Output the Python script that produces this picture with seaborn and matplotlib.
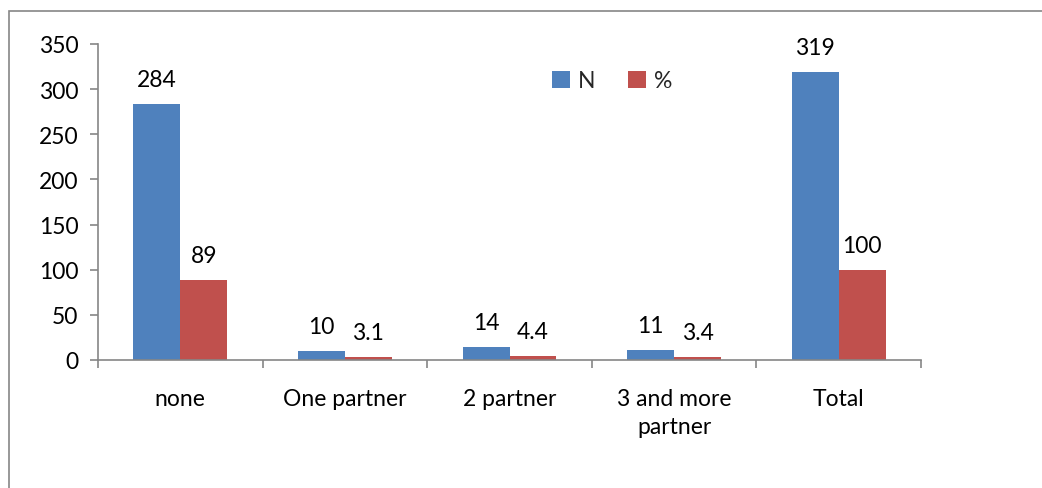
import matplotlib
matplotlib.use("Agg")
import matplotlib.pyplot as plt
from matplotlib.patches import Rectangle, Patch
import seaborn as sns
import pandas as pd

categories = ["none", "One partner", "2 partner", "3 and more\npartner", "Total"]
n_values = [284, 10, 14, 11, 319]
pct_values = [89, 3.1, 4.4, 3.4, 100]
series = ["N", "%"]
colors = ["#4F81BD", "#C0504D"]

df = pd.DataFrame({
    "category": categories * 2,
    "series": [series[0]] * len(categories) + [series[1]] * len(categories),
    "value": n_values + pct_values,
})

sns.set_theme(style="white")
plt.rcParams["font.family"] = ["Lato", "DejaVu Sans"]

FS = 16.5
W, H = 1042, 489
fig = plt.figure(figsize=(W / 100, H / 100), dpi=100)
ax = fig.add_axes([98 / W, (H - 361) / H, (921 - 98) / W, 316 / H])

sns.barplot(data=df, x="category", y="value", hue="series", order=categories,
            hue_order=series, palette=colors, width=0.571, dodge=True,
            saturation=1, edgecolor="none", linewidth=0, ax=ax, legend=False)

for cont in ax.containers:
    ax.bar_label(cont, fmt="{:g}", padding=10, fontsize=FS, color="black")

ax.set_ylim(0, 350)
ax.set_yticks(range(0, 351, 50))
ax.set_xlim(-0.5, len(categories) - 0.5)
ax.set_xlabel("")
ax.set_ylabel("")

spine_color = "#868686"
for s in ["top", "right"]:
    ax.spines[s].set_visible(False)
for s in ["left", "bottom"]:
    ax.spines[s].set_color(spine_color)
    ax.spines[s].set_linewidth(1.2)

ax.tick_params(axis="y", which="both", left=True, length=6, width=1.2,
               color=spine_color, labelsize=FS, pad=8, labelcolor="black")
ax.set_xticks([i + 0.5 for i in range(-1, len(categories))], minor=False)
ax.set_xticklabels([])
ax.set_xticks(range(len(categories)), minor=True)
ax.set_xticklabels(categories, minor=True, fontsize=FS, color="black",
                   linespacing=1.45)
ax.tick_params(axis="x", which="major", bottom=True, length=6, width=1.2,
               color=spine_color)
ax.tick_params(axis="x", which="minor", bottom=False, length=0, pad=20)
for lbl in ax.get_xticklabels(minor=True):
    lbl.set_verticalalignment("top")

handles = [Patch(facecolor=c, edgecolor="none", label=s) for c, s in zip(colors, series)]
fig.legend(handles=handles, loc="center", bbox_to_anchor=(612 / W, 1 - 82 / H),
           ncol=2, frameon=False, fontsize=FS, handlelength=0.8,
           handleheight=0.8, handletextpad=0.35, columnspacing=1.4)

fig.patches.append(Rectangle((9 / W, -0.1), 1.2, (H - 12) / H + 0.1,
                             transform=fig.transFigure, fill=False,
                             edgecolor=spine_color, linewidth=1.2))

fig.savefig("out.png", dpi=100)
